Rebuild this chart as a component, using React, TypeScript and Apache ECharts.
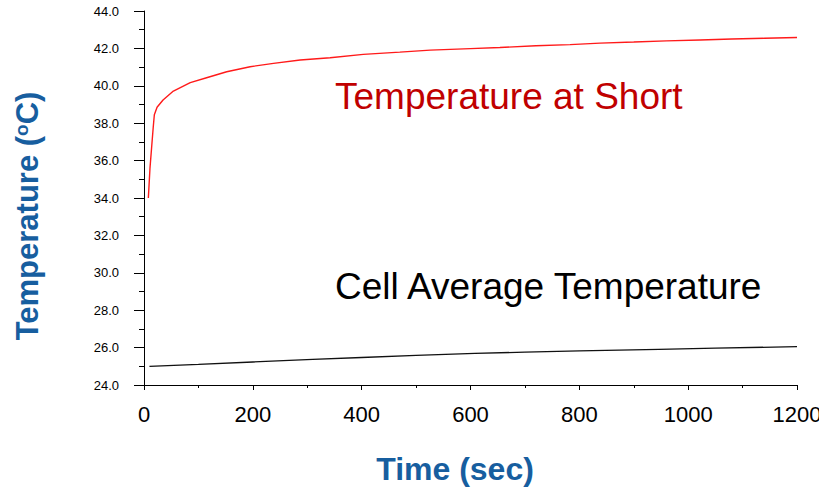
import React, { useEffect, useRef } from "react";
import * as echarts from "echarts";

const shortTime = [8, 11, 14, 17, 19, 24, 35, 54, 85, 115, 152, 195, 238, 287, 342, 403, 470, 526, 600, 654, 720, 783, 838, 900, 960, 1022, 1080, 1140, 1200];
const shortTemp = [34.0, 35.6, 36.7, 37.8, 38.45, 38.85, 39.24, 39.72, 40.17, 40.43, 40.75, 41.02, 41.2, 41.38, 41.5, 41.68, 41.8, 41.91, 41.99, 42.05, 42.14, 42.2, 42.28, 42.34, 42.4, 42.45, 42.5, 42.54, 42.58];

const cellTime = [10, 100, 200, 310, 400, 500, 608, 700, 800, 946, 1050, 1200];
const cellTemp = [25.0, 25.1, 25.23, 25.37, 25.47, 25.58, 25.69, 25.76, 25.83, 25.91, 25.97, 26.05];

const xTicks = { min: 0, max: 1200, interval: 200 };
const yTicks = { min: 24, max: 44, interval: 2 };

const labelShort = "Temperature at Short";
const labelCell = "Cell Average Temperature";
const xTitle = "Time (sec)";
const yTitle = "Temperature ({sup|o}C)";

const BLUE = "#175e9f";
const FONT = "Liberation Sans, Arial, sans-serif";

export default function App() {
  const ref = useRef<HTMLDivElement>(null);
  useEffect(() => {
    if (!ref.current) return;
    const chart = echarts.init(ref.current, null, { renderer: "svg" });
    chart.setOption({
      animation: false,
      backgroundColor: "#ffffff",
      grid: {
        left: 144,
        right: 22,
        top: 11,
        bottom: 104,
        containLabel: false,
        outerBoundsMode: "none",
      },
      xAxis: {
        type: "value",
        min: xTicks.min,
        max: xTicks.max,
        interval: xTicks.interval,
        axisLine: { show: true, onZero: false, lineStyle: { color: "#000", width: 1 } },
        axisTick: { show: true, inside: false, length: 5, lineStyle: { color: "#000" } },
        minorTick: { show: true, splitNumber: 2, length: 3, lineStyle: { color: "#000" } },
        splitLine: { show: false },
        axisLabel: {
          margin: 18,
          fontSize: 22,
          color: "#000",
          fontFamily: FONT,
          formatter: (v: number) => String(v),
        },
      },
      yAxis: {
        type: "value",
        min: yTicks.min,
        max: yTicks.max,
        interval: yTicks.interval,
        axisLine: { show: true, onZero: false, lineStyle: { color: "#000", width: 1 } },
        axisTick: { show: true, inside: false, length: 10, lineStyle: { color: "#000" } },
        minorTick: { show: true, splitNumber: 2, length: 5, lineStyle: { color: "#000" } },
        splitLine: { show: false },
        axisLabel: {
          margin: 25,
          fontSize: 13,
          color: "#000",
          fontFamily: FONT,
          formatter: (v: number) => v.toFixed(1),
        },
      },
      series: [
        {
          type: "line",
          name: labelShort,
          data: shortTime.map((t, i) => [t, shortTemp[i]]),
          showSymbol: false,
          lineStyle: { color: "#ff1a1a", width: 1.4 },
        },
        {
          type: "line",
          name: labelCell,
          data: cellTime.map((t, i) => [t, cellTemp[i]]),
          showSymbol: false,
          lineStyle: { color: "#111", width: 1.3 },
        },
      ],
      graphic: [
        {
          type: "text",
          x: 335,
          y: 96,
          style: {
            text: labelShort,
            fill: "#c00000",
            fontSize: 37,
            fontFamily: FONT,
            align: "left",
            verticalAlign: "middle",
          },
        },
        {
          type: "text",
          x: 335,
          y: 286,
          style: {
            text: labelCell,
            fill: "#000",
            fontSize: 37,
            fontFamily: FONT,
            align: "left",
            verticalAlign: "middle",
          },
        },
        {
          type: "text",
          x: 455,
          y: 469,
          style: {
            text: xTitle,
            fill: BLUE,
            fontSize: 32,
            fontWeight: "bold",
            fontFamily: FONT,
            align: "center",
            verticalAlign: "middle",
          },
        },
        {
          type: "text",
          x: 27,
          y: 216,
          rotation: Math.PI / 2,
          style: {
            text: yTitle,
            fill: BLUE,
            fontSize: 31,
            fontWeight: "bold",
            fontFamily: FONT,
            align: "center",
            verticalAlign: "middle",
            rich: {
              sup: {
                fontSize: 19,
                fontWeight: "bold",
                fontFamily: FONT,
                fill: BLUE,
                verticalAlign: "top",
                lineHeight: 31,
              },
            },
          },
        },
      ],
    });
    return () => chart.dispose();
  }, []);
  return (
    <div
      ref={ref}
      style={{ position: "fixed", left: 0, top: 0, width: 819, height: 489 }}
    />
  );
}
